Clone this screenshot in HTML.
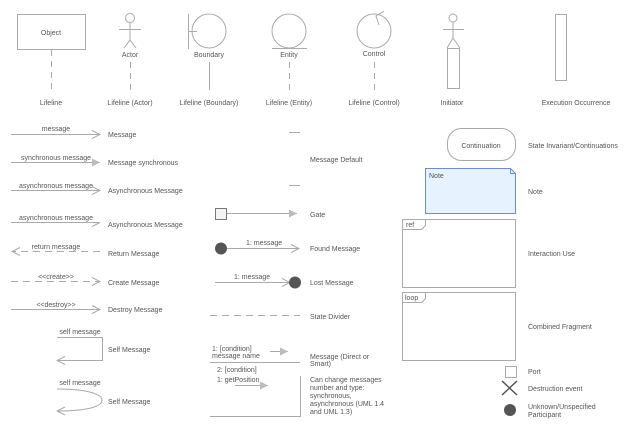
<!DOCTYPE html>
<html><head><meta charset="utf-8"><style>
html,body{margin:0;padding:0;background:#fff}
svg{display:block}
text{font-family:"Liberation Sans",sans-serif;font-size:7px;fill:#555}
</style></head><body>
<svg width="640" height="428" viewBox="0 0 640 428" xmlns="http://www.w3.org/2000/svg">
<defs>
<marker id="open" markerWidth="10" markerHeight="10" refX="9" refY="5" orient="auto" markerUnits="userSpaceOnUse"><path d="M1,1 L9,5 L1,9" fill="none" stroke="#aaa" stroke-width="1"/></marker>
<marker id="fill" markerWidth="10" markerHeight="10" refX="9" refY="5" orient="auto" markerUnits="userSpaceOnUse"><path d="M1,1 L9,5 L1,9 Z" fill="#bbb" stroke="none"/></marker>
<marker id="half" markerWidth="10" markerHeight="10" refX="9" refY="5" orient="auto" markerUnits="userSpaceOnUse"><path d="M9,5 L1,9" fill="none" stroke="#aaa" stroke-width="1"/></marker>
</defs>
<g stroke="#aaa" stroke-width="1" fill="none">
<!-- top row -->
<rect x="17.5" y="14.5" width="68" height="35"/>
<line x1="51.5" y1="50" x2="51.5" y2="90" stroke-dasharray="6,5"/>
<circle cx="130" cy="18" r="4.5"/>
<line x1="130" y1="22.5" x2="130" y2="40"/>
<line x1="119" y1="29.5" x2="141" y2="29.5"/>
<path d="M124,48 L130,40 L136,48"/>
<line x1="130.5" y1="62" x2="130.5" y2="90" stroke-dasharray="6,5"/>
<line x1="188.5" y1="14" x2="188.5" y2="49"/>
<line x1="188" y1="31.5" x2="197" y2="31.5"/>
<circle cx="209" cy="31" r="17"/>
<line x1="209.5" y1="62" x2="209.5" y2="90"/>
<circle cx="289" cy="31" r="17"/>
<line x1="272" y1="48.5" x2="307" y2="48.5"/>
<line x1="289.5" y1="62" x2="289.5" y2="90" stroke-dasharray="6,5"/>
<circle cx="374" cy="31" r="17"/>
<path d="M384,11 L376,16 L379,25"/>
<line x1="374.5" y1="62" x2="374.5" y2="90" stroke-dasharray="6,5"/>
<circle cx="453" cy="18" r="4"/>
<line x1="453" y1="22" x2="453" y2="38"/>
<line x1="443" y1="29.5" x2="464" y2="29.5"/>
<path d="M447,48 L453,38 L460,48"/>
<rect x="447.5" y="48.5" width="12" height="40"/>
<rect x="555.5" y="14.5" width="11" height="66"/>
<!-- left messages -->
<line x1="11" y1="134.5" x2="100" y2="134.5" marker-end="url(#open)"/>
<line x1="11" y1="162.5" x2="100" y2="162.5" marker-end="url(#fill)"/>
<line x1="11" y1="190.5" x2="100" y2="190.5" marker-end="url(#open)"/>
<line x1="11" y1="222.5" x2="100" y2="222.5" marker-end="url(#half)"/>
<line x1="100" y1="251.5" x2="12" y2="251.5" stroke-dasharray="7,5" marker-end="url(#open)"/>
<line x1="11" y1="281.5" x2="100" y2="281.5" stroke-dasharray="7,5" marker-end="url(#open)"/>
<line x1="11" y1="309.5" x2="100" y2="309.5" marker-end="url(#open)"/>
<path d="M57,337.5 L102.5,337.5 L102.5,360.5 L57,360.5" marker-end="url(#open)"/>
<path d="M57,389 C90,389 102,395 102,400 C102,406 90,411 57,411" marker-end="url(#open)"/>
<!-- middle -->
<line x1="289" y1="132.5" x2="300" y2="132.5"/>
<line x1="289" y1="185.5" x2="300" y2="185.5"/>
<rect x="215.5" y="208.5" width="11" height="11" fill="#f4f4f4" stroke="#777"/>
<line x1="227" y1="213.5" x2="297" y2="213.5" marker-end="url(#fill)"/>
<line x1="221" y1="248.5" x2="299" y2="248.5" marker-end="url(#open)"/>
<line x1="215" y1="282.5" x2="290" y2="282.5" marker-end="url(#open)"/>
<line x1="210" y1="315.5" x2="300" y2="315.5" stroke-dasharray="7,5"/>
<line x1="270" y1="351.5" x2="288" y2="351.5" marker-end="url(#fill)"/>
<line x1="210" y1="362.5" x2="300" y2="362.5"/>
<line x1="235" y1="385.5" x2="268" y2="385.5" marker-end="url(#fill)"/>
<path d="M300.5,376 L300.5,416.5 L210,416.5"/>
<!-- right -->
<rect x="447.5" y="128.5" width="68" height="32" rx="14"/>
<path d="M425.5,168.5 L510.5,168.5 L515.5,173.5 L515.5,213.5 L425.5,213.5 Z" fill="#e6f2fd" stroke="#6a8fcc"/>
<path d="M510.5,168.5 L510.5,173.5 L515.5,173.5" stroke="#6a8fcc"/>
<rect x="402.5" y="219.5" width="113" height="68"/>
<path d="M402.5,229.5 L421.5,229.5 L425.5,225.5 L425.5,219.5"/>
<rect x="402.5" y="292.5" width="113" height="68"/>
<path d="M402.5,302.5 L421.5,302.5 L425.5,298.5 L425.5,292.5"/>
<rect x="505.5" y="366.5" width="11" height="11"/>
<path d="M502,381 L517,395 M517,381 L502,395" stroke="#555" stroke-width="1.5"/>
</g>
<circle cx="221" cy="248.5" r="6" fill="#555"/>
<circle cx="295" cy="282.5" r="6" fill="#555"/>
<circle cx="510" cy="410" r="6" fill="#555"/>
<g>
<text x="51" y="35" text-anchor="middle">Object</text>
<text x="130" y="57" text-anchor="middle">Actor</text>
<text x="209" y="57" text-anchor="middle">Boundary</text>
<text x="289" y="57" text-anchor="middle">Entity</text>
<text x="374" y="56" text-anchor="middle">Control</text>
<text x="51" y="105" text-anchor="middle">Lifeline</text>
<text x="130" y="105" text-anchor="middle">Lifeline (Actor)</text>
<text x="209" y="105" text-anchor="middle">Lifeline (Boundary)</text>
<text x="289" y="105" text-anchor="middle">Lifeline (Entity)</text>
<text x="374" y="105" text-anchor="middle">Lifeline (Control)</text>
<text x="452" y="105" text-anchor="middle">Initiator</text>
<text x="576" y="105" text-anchor="middle">Execution Occurrence</text>

<text x="56" y="131" text-anchor="middle">message</text>
<text x="56" y="160" text-anchor="middle">synchronous message</text>
<text x="56" y="188" text-anchor="middle">asynchronous message</text>
<text x="56" y="220" text-anchor="middle">asynchronous message</text>
<text x="56" y="249" text-anchor="middle">return message</text>
<text x="56" y="279" text-anchor="middle">&lt;&lt;create&gt;&gt;</text>
<text x="56" y="307" text-anchor="middle">&lt;&lt;destroy&gt;&gt;</text>
<text x="80" y="334" text-anchor="middle">self message</text>
<text x="80" y="385" text-anchor="middle">self message</text>
<text x="108" y="137">Message</text>
<text x="108" y="165">Message synchronous</text>
<text x="108" y="193">Asynchronous Message</text>
<text x="108" y="227">Asynchronous Message</text>
<text x="108" y="256">Return Message</text>
<text x="108" y="285">Create Message</text>
<text x="108" y="312">Destroy Message</text>
<text x="108" y="352">Self Message</text>
<text x="108" y="404">Self Message</text>

<text x="310" y="162">Message Default</text>
<text x="310" y="217">Gate</text>
<text x="246" y="245">1: message</text>
<text x="234" y="279">1: message</text>
<text x="310" y="251">Found Message</text>
<text x="310" y="285">Lost Message</text>
<text x="310" y="319">State Divider</text>
<text x="212" y="351">1: [condition]</text>
<text x="212" y="358">message name</text>
<text x="217" y="372">2: [condition]</text>
<text x="217" y="382">1: getPosition</text>
<text x="310" y="359">Message (Direct or</text>
<text x="310" y="366">Smart)</text>
<text x="310" y="382">Can change messages</text>
<text x="310" y="390">number and type:</text>
<text x="310" y="398">synchronous,</text>
<text x="310" y="406">asynchronous (UML 1.4</text>
<text x="310" y="414">and UML 1.3)</text>

<text x="481" y="148" text-anchor="middle">Continuation</text>
<text x="528" y="148">State Invariant/Continuations</text>
<text x="429" y="178">Note</text>
<text x="528" y="194">Note</text>
<text x="406" y="227">ref</text>
<text x="528" y="256">Interaction Use</text>
<text x="405" y="300">loop</text>
<text x="528" y="329">Combined Fragment</text>
<text x="528" y="374">Port</text>
<text x="528" y="391">Destruction event</text>
<text x="528" y="409">Unknown/Unspecified</text>
<text x="528" y="417">Participant</text>
</g>
</svg>
</body></html>
